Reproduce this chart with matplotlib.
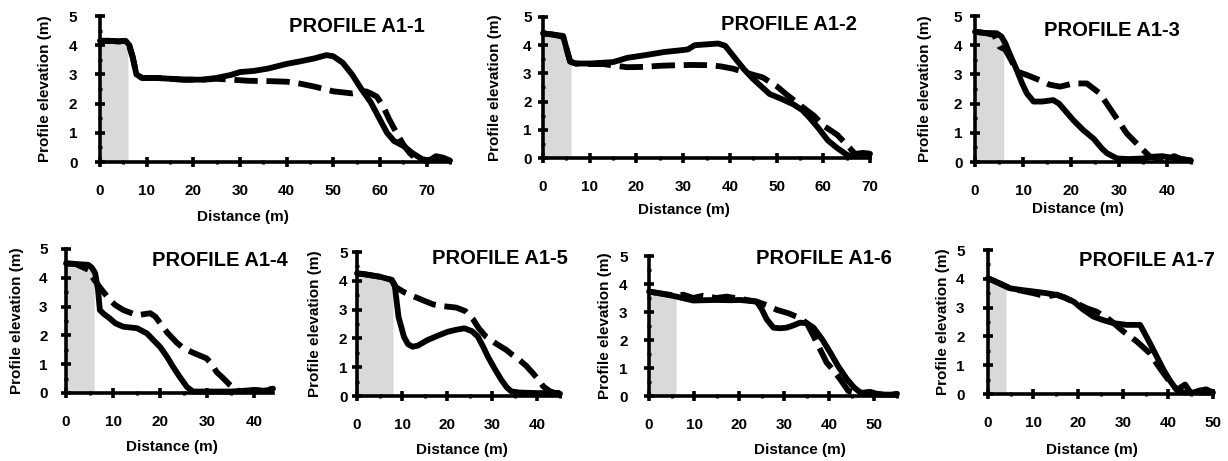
import numpy as np
import matplotlib
matplotlib.use('Agg')
import matplotlib.pyplot as plt
from matplotlib.ticker import MultipleLocator

plt.rcParams['font.family'] = ['Liberation Sans', 'DejaVu Sans']
plt.rcParams['font.weight'] = 'bold'

# --- данные профилей (сплошная и штриховая линии) ---
titles = ['PROFILE A1-1', 'PROFILE A1-2', 'PROFILE A1-3', 'PROFILE A1-4',
          'PROFILE A1-5', 'PROFILE A1-6', 'PROFILE A1-7']
x_max = [75, 70, 45, 44, 45, 55, 50]
shade_end = [6, 6, 6, 6, 8, 6, 4]

# A1-1
x1_solid = [0, 2, 4, 5.5, 6.3, 7, 7.8, 9, 12, 15, 18, 22, 25, 28, 30, 33, 36, 40, 43, 46,
            48.5, 50, 52, 54, 55, 56, 58, 60, 61.5, 63, 65, 67, 69, 70.5, 72, 73.5, 75]
y1_solid = [4.15, 4.15, 4.13, 4.15, 4.0, 3.6, 3.0, 2.88, 2.88, 2.85, 2.82, 2.82, 2.88, 2.98,
            3.08, 3.12, 3.2, 3.36, 3.45, 3.55, 3.66, 3.62, 3.4, 3.0, 2.75, 2.5, 2.05, 1.45,
            1.0, 0.72, 0.55, 0.3, 0.1, 0.05, 0.2, 0.15, 0.05]
x1_dash = [0, 2, 4, 5.5, 6.3, 7, 7.8, 9, 12, 15, 18, 22, 25, 28, 32, 36, 40, 43, 46, 50,
           54, 57, 58, 59.3, 60.7, 62, 63.6, 65, 66.4, 68, 70, 72, 75]
y1_dash = [4.15, 4.15, 4.13, 4.15, 3.95, 3.6, 3.0, 2.88, 2.88, 2.85, 2.82, 2.82, 2.85, 2.82,
           2.78, 2.77, 2.75, 2.68, 2.58, 2.42, 2.35, 2.42, 2.35, 2.24, 1.9, 1.45, 0.98, 0.6,
           0.3, 0.08, 0.05, 0.1, 0.05]

# A1-2
x2_solid = [0, 2, 4.3, 5, 5.8, 7, 10, 13, 15, 18, 22, 26, 29.5, 31, 32.5, 35, 37.5, 39,
            41.5, 43, 45, 48.5, 51, 53.5, 55.5, 57, 59, 61, 63, 65, 66, 67, 68.5, 70]
y2_solid = [4.42, 4.38, 4.33, 3.9, 3.42, 3.35, 3.35, 3.38, 3.4, 3.55, 3.65, 3.76, 3.82,
            3.85, 4.0, 4.03, 4.06, 3.98, 3.46, 3.15, 2.8, 2.27, 2.1, 1.91, 1.7, 1.44, 1.05,
            0.62, 0.35, 0.12, 0.05, 0.15, 0.18, 0.15]
x2_dash = [0, 2, 4.3, 5, 5.8, 7, 10, 13, 15, 18, 21.5, 25, 28.6, 32, 35.7, 38, 40.6, 43,
           45, 47, 50, 52, 55.6, 58, 60, 63, 65.7, 67, 68.5, 70]
y2_dash = [4.42, 4.38, 4.3, 3.9, 3.42, 3.35, 3.33, 3.33, 3.28, 3.22, 3.23, 3.27, 3.29, 3.3,
           3.29, 3.25, 3.17, 3.05, 2.95, 2.86, 2.55, 2.27, 1.8, 1.5, 1.15, 0.82, 0.35, 0.1,
           0.15, 0.15]

# A1-3
x3_solid = [0, 2, 4.5, 5.5, 6.3, 7.5, 8.7, 9.8, 10.8, 12.2, 14, 16.3, 17.5, 20.5, 22.5,
            24.7, 26.5, 27.5, 29.6, 32, 35, 37, 39, 41, 43, 45]
y3_solid = [4.46, 4.42, 4.41, 4.3, 4.07, 3.6, 3.15, 2.7, 2.35, 2.07, 2.07, 2.12, 2.0, 1.43,
            1.1, 0.8, 0.45, 0.3, 0.12, 0.1, 0.12, 0.18, 0.2, 0.15, 0.1, 0.05]
x3_dash = [0, 2, 4, 5.1, 6.3, 7.5, 8.7, 10.8, 13.5, 15.5, 17.7, 20.5, 23.3, 26, 28.8, 31.6,
           34.3, 36.4, 38, 40, 41.5, 43, 45]
y3_dash = [4.46, 4.42, 4.35, 3.95, 3.85, 3.5, 3.1, 2.98, 2.8, 2.65, 2.58, 2.69, 2.69, 2.35,
           1.67, 0.98, 0.53, 0.19, 0.12, 0.12, 0.2, 0.1, 0.05]

# A1-4
x4_solid = [0, 2, 4.75, 5.5, 6.2, 6.8, 7.2, 8, 9.3, 10.5, 12.2, 15.1, 17.2, 18.5, 20, 21.5,
            22.8, 24, 25.7, 27, 29, 32, 35, 38, 40, 42, 43, 44]
y4_solid = [4.5, 4.48, 4.45, 4.35, 4.16, 3.6, 2.88, 2.75, 2.59, 2.42, 2.3, 2.25, 2.07, 1.85,
            1.6, 1.25, 0.9, 0.6, 0.21, 0.05, 0.05, 0.05, 0.05, 0.08, 0.1, 0.08, 0.1, 0.15]
x4_dash = [0, 2, 4.75, 5.5, 6.5, 8, 9.3, 10.5, 12.2, 15.1, 17.9, 19, 20, 21.5, 23.6, 25, 27,
           29.9, 31, 32, 33.5, 34.9, 36.3, 38, 40, 42, 44]
y4_dash = [4.5, 4.48, 4.28, 4.05, 3.82, 3.5, 3.24, 3.05, 2.88, 2.7, 2.77, 2.65, 2.43, 2.1,
           1.74, 1.55, 1.4, 1.2, 1.0, 0.73, 0.5, 0.27, 0.08, 0.06, 0.1, 0.08, 0.15]

# A1-5
x5_solid = [0, 2, 5.1, 7.7, 8.4, 9.2, 10.4, 11.3, 12.3, 13.5, 15.6, 18, 20.1, 22, 23.8,
            25.5, 26.8, 28, 29, 30.5, 32, 33.2, 34.2, 36, 40, 43, 44.5, 45]
y5_solid = [4.26, 4.22, 4.14, 4.03, 3.8, 2.75, 2.06, 1.8, 1.71, 1.75, 1.94, 2.1, 2.23, 2.3,
            2.35, 2.25, 2.06, 1.7, 1.37, 0.95, 0.56, 0.3, 0.16, 0.12, 0.1, 0.1, 0.1, 0.08]
x5_dash = [0, 2, 5.1, 7.7, 8.7, 10.5, 12.4, 15, 16.9, 19, 22, 24, 25.7, 27, 28.6, 31, 33.1,
           34.5, 36, 37.5, 39, 40.3, 41.3, 42.8, 44, 45]
y5_dash = [4.26, 4.22, 4.14, 4.03, 3.77, 3.6, 3.47, 3.3, 3.18, 3.12, 3.07, 2.95, 2.67, 2.35,
           2.06, 1.8, 1.6, 1.42, 1.25, 1.05, 0.79, 0.55, 0.33, 0.16, 0.1, 0.1]

# A1-6
x6_solid = [0, 3, 6.1, 9.8, 12, 15, 18, 20.2, 22, 23.9, 25, 26.1, 27.6, 29, 30.5, 32, 33.5,
            35, 36.5, 38.5, 40.2, 42, 43.9, 45.5, 46.9, 48, 50, 52, 54, 55]
y6_solid = [3.73, 3.65, 3.55, 3.41, 3.42, 3.43, 3.42, 3.43, 3.4, 3.37, 3.1, 2.74, 2.44, 2.42,
            2.44, 2.52, 2.62, 2.6, 2.44, 2.0, 1.55, 1.05, 0.6, 0.3, 0.12, 0.1, 0.06, 0.05,
            0.05, 0.08]
x6_dash = [0, 3, 6.1, 7.6, 9.8, 12, 15, 17.2, 20.2, 23.9, 26, 28.3, 31, 33.5, 35, 36.5, 38,
           39.4, 41, 42.4, 44.2, 46, 47.6, 49, 50.5, 52, 55]
y6_dash = [3.73, 3.65, 3.58, 3.62, 3.5, 3.58, 3.5, 3.55, 3.47, 3.37, 3.25, 3.08, 2.95, 2.78,
           2.6, 2.14, 1.65, 1.19, 0.9, 0.6, 0.18, 0.12, 0.12, 0.15, 0.08, 0.05, 0.05]

# A1-7
x7_solid = [0, 2, 4.9, 7, 10.1, 13, 15.3, 17, 19, 21, 23.4, 25.5, 27.9, 30.8, 33.8, 34.5,
            36, 37.5, 39, 40.5, 41.9, 43.5, 45.6, 47, 48.5, 50]
y7_solid = [4.02, 3.88, 3.67, 3.62, 3.56, 3.5, 3.44, 3.35, 3.21, 2.95, 2.69, 2.57, 2.46,
            2.4, 2.4, 2.2, 1.76, 1.3, 0.84, 0.45, 0.15, 0.05, 0.05, 0.12, 0.16, 0.05]
x7_dash = [0, 2, 4.9, 7, 10.1, 11.6, 13.5, 15.3, 17, 19, 21.9, 24.1, 27.1, 30.1, 33.1, 36,
           37.5, 39, 40.5, 42, 43.8, 45, 47, 50]
y7_dash = [4.02, 3.88, 3.67, 3.6, 3.5, 3.44, 3.4, 3.45, 3.35, 3.2, 2.98, 2.86, 2.57, 2.17,
           1.82, 1.41, 1.05, 0.72, 0.4, 0.15, 0.33, 0.05, 0.05, 0.05]

solid = [(x1_solid, y1_solid), (x2_solid, y2_solid), (x3_solid, y3_solid), (x4_solid, y4_solid),
         (x5_solid, y5_solid), (x6_solid, y6_solid), (x7_solid, y7_solid)]
dashed = [(x1_dash, y1_dash), (x2_dash, y2_dash), (x3_dash, y3_dash), (x4_dash, y4_dash),
          (x5_dash, y5_dash), (x6_dash, y6_dash), (x7_dash, y7_dash)]

# --- раскладка в пикселях: left, top, right, bottom ---
W, H = 1228, 461
boxes = [(100, 16, 450, 162), (543, 17, 870, 158), (975, 16, 1191, 162),
         (66, 249, 273, 393), (357, 252, 560, 396), (649, 256, 897, 396), (988, 250, 1213, 394)]
title_pos = [(425, 27), (857, 25), (1180, 30), (288, 260), (568, 258), (892, 258), (1215, 260)]
ylab_off = [55, 48, 50, 49, 42, 44, 45]
ytick_pad = [13.0, 5.0, 5.8, 10.0, 3.6, 12.2, 13.6]
xlab_pos = [(243, 55), (684, 52), (1078, 47), (172, 54), (462, 54), (800, 54), (1092, 56)]

fig = plt.figure(figsize=(W / 100, H / 100), dpi=100)

for i in range(7):
    l, t, r, b = boxes[i]
    w, h = r - l, b - t
    ax = fig.add_axes([l / W, 1 - b / H, w / W, h / H])
    xs, ys = solid[i]
    xd, yd = dashed[i]

    # серая зона под профилем
    xf = np.linspace(0, shade_end[i], 50)
    ax.fill_between(xf, 0, np.interp(xf, xs, ys), color='#d9d9d9', lw=0, zorder=1)

    ax.plot(xd, yd, color='black', lw=4.2, dashes=(4, 1.5), dash_capstyle='butt',
            solid_capstyle='round', clip_on=False, zorder=3)
    ax.plot(xs, ys, color='black', lw=4.2, solid_capstyle='round', solid_joinstyle='round',
            clip_on=False, zorder=4)

    ax.set_xlim(0, x_max[i])
    ax.set_ylim(0, 5)
    ax.xaxis.set_major_locator(MultipleLocator(10))
    ax.xaxis.set_minor_locator(MultipleLocator(5))
    ax.yaxis.set_major_locator(MultipleLocator(1))
    ax.yaxis.set_minor_locator(MultipleLocator(0.5))

    for s in ['top', 'right']:
        ax.spines[s].set_visible(False)
    for s in ['left', 'bottom']:
        ax.spines[s].set_linewidth(2.6)
        ax.spines[s].set_zorder(5)
    ax.patch.set_alpha(0)

    ax.tick_params(which='major', direction='inout', length=6.5, width=2.6, labelsize=11)
    ax.tick_params(which='minor', direction='inout', length=3, width=2.2)
    ax.tick_params(axis='x', which='major', pad=12.3)
    ax.tick_params(axis='y', which='major', pad=ytick_pad[i])
    for lab in ax.get_xticklabels() + ax.get_yticklabels():
        lab.set_fontweight('bold')

    ax.set_ylabel('Profile elevation (m)', fontsize=11, fontweight='bold')
    ax.yaxis.set_label_coords(-ylab_off[i] / w, 0.5)
    ax.yaxis.label.set_va('center')
    ax.set_xlabel('Distance (m)', fontsize=11, fontweight='bold')
    cx, off = xlab_pos[i]
    ax.xaxis.set_label_coords((cx - l) / w, -off / h)
    ax.xaxis.label.set_va('center')

    tx, ty = title_pos[i]
    fig.text(tx / W, 1 - ty / H, titles[i], ha='right', va='center',
             fontsize=14.5, fontweight='bold')

fig.savefig('out.png', dpi=100)
